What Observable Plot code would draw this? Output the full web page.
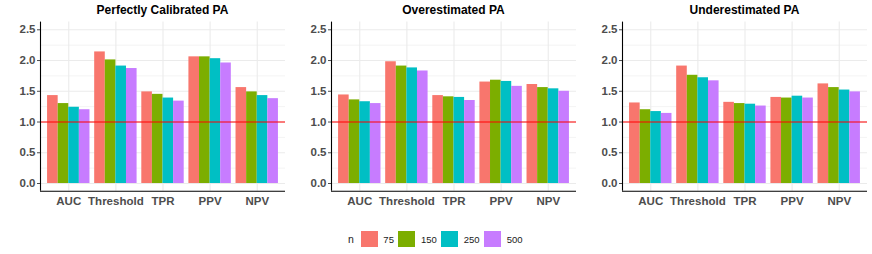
<!DOCTYPE html>
<html>
<head>
<meta charset="utf-8">
<script src="https://cdn.jsdelivr.net/npm/d3@7"></script>
<script src="https://cdn.jsdelivr.net/npm/@observablehq/plot@0.6"></script>
<style>
  body { margin: 0; background: white; font-family: "Liberation Sans", Arial, Helvetica, sans-serif; }
  #root { position: relative; width: 872px; height: 254px; overflow: hidden; background: white; }
  .panel { position: absolute; top: 0; }
  .title { position: absolute; top: 3px; width: 245px; text-align: center; font-weight: bold; font-size: 12px; line-height: 14px; color: #000; }
  #legend { position: absolute; left: 348px; top: 231px; height: 16px; display: flex; align-items: center; font-size: 9.5px; color: #1a1a1a; }
  #legend .lt { font-size: 10.5px; margin-right: 7px; }
  #legend .sw { width: 17px; height: 16px; margin-right: 5.5px; }
  #legend .lab { margin-right: 4.5px; }
</style>
</head>
<body>
<div id="root"></div>
<script>
const metrics = ["AUC", "Threshold", "TPR", "PPV", "NPV"];
const sizes = ["75", "150", "250", "500"];
const colors = ["#F8766D", "#7CAE00", "#00BFC4", "#C77CFF"];
const panelTitles = ["Perfectly Calibrated PA", "Overestimated PA", "Underestimated PA"];
// values[metric][size]
const perfectValues = [
  [1.43, 1.30, 1.24, 1.20],
  [2.14, 2.01, 1.91, 1.87],
  [1.49, 1.45, 1.39, 1.34],
  [2.06, 2.06, 2.03, 1.96],
  [1.56, 1.49, 1.43, 1.38]
];
const overValues = [
  [1.44, 1.36, 1.33, 1.30],
  [1.98, 1.91, 1.88, 1.83],
  [1.43, 1.41, 1.40, 1.35],
  [1.65, 1.68, 1.66, 1.58],
  [1.61, 1.56, 1.54, 1.50]
];
const underValues = [
  [1.31, 1.20, 1.17, 1.14],
  [1.91, 1.76, 1.72, 1.67],
  [1.32, 1.30, 1.29, 1.26],
  [1.40, 1.39, 1.42, 1.39],
  [1.62, 1.56, 1.52, 1.49]
];
const yTicks = [0, 0.5, 1, 1.5, 2, 2.5];
const yMinor = [0.25, 0.75, 1.25, 1.75, 2.25];
const referenceLine = 1;
const legendTitle = "n";

const panelValues = [perfectValues, overValues, underValues];
const dodge = 0.9;
const xDomain = [0.4, metrics.length + 0.6];
const yDomain = [-0.125, 2.625];
const xPos = metrics.map((m, i) => i + 1);

const root = document.getElementById("root");

panelValues.forEach((vals, p) => {
  const rows = [];
  vals.forEach((arr, i) => {
    arr.forEach((v, j) => {
      const w = dodge / sizes.length;
      const x1 = i + 1 - dodge / 2 + j * w;
      rows.push({metric: metrics[i], n: sizes[j], value: v, x1, x2: x1 + w});
    });
  });
  const chart = Plot.plot({
    width: 290,
    height: 212,
    marginLeft: 40,
    marginRight: 5,
    marginTop: 21.6,
    marginBottom: 21.3,
    style: {
      fontFamily: '"Liberation Sans", Arial, Helvetica, sans-serif',
      fontSize: "11.5px",
      fontWeight: "bold",
      color: "#4D4D4D",
      background: "white",
      overflow: "visible"
    },
    x: {domain: xDomain, ticks: xPos, tickFormat: d => metrics[d - 1], tickSize: 0, tickPadding: 5.5, label: null},
    y: {domain: yDomain, ticks: yTicks, tickFormat: d3.format(".1f"), tickSize: 3, tickPadding: 2, label: null},
    color: {domain: sizes, range: colors},
    marks: [
      Plot.ruleY(yMinor, {stroke: "#EBEBEB", strokeWidth: 0.6}),
      Plot.ruleY(yTicks, {stroke: "#EBEBEB", strokeWidth: 1.1}),
      Plot.ruleX(xPos, {stroke: "#EBEBEB", strokeWidth: 1.1}),
      Plot.rectY(rows, {x1: "x1", x2: "x2", y1: 0, y2: "value", fill: "n"}),
      Plot.ruleY([referenceLine], {stroke: "red", strokeWidth: 1.1}),
      Plot.ruleX([xDomain[0]], {stroke: "black", strokeWidth: 1.1}),
      Plot.ruleY([yDomain[0]], {stroke: "black", strokeWidth: 1.1})
    ]
  });
  const left = p * 291;
  chart.classList.add("panel");
  chart.style.left = left + "px";
  root.appendChild(chart);
  const t = document.createElement("div");
  t.className = "title";
  t.style.left = (left + 40) + "px";
  t.textContent = panelTitles[p];
  root.appendChild(t);
});

const legend = document.createElement("div");
legend.id = "legend";
const lt = document.createElement("span");
lt.className = "lt";
lt.textContent = legendTitle;
legend.appendChild(lt);
sizes.forEach((s, j) => {
  const sw = document.createElement("span");
  sw.className = "sw";
  sw.style.background = colors[j];
  legend.appendChild(sw);
  const lab = document.createElement("span");
  lab.className = "lab";
  lab.textContent = s;
  legend.appendChild(lab);
});
root.appendChild(legend);
</script>
</body>
</html>
